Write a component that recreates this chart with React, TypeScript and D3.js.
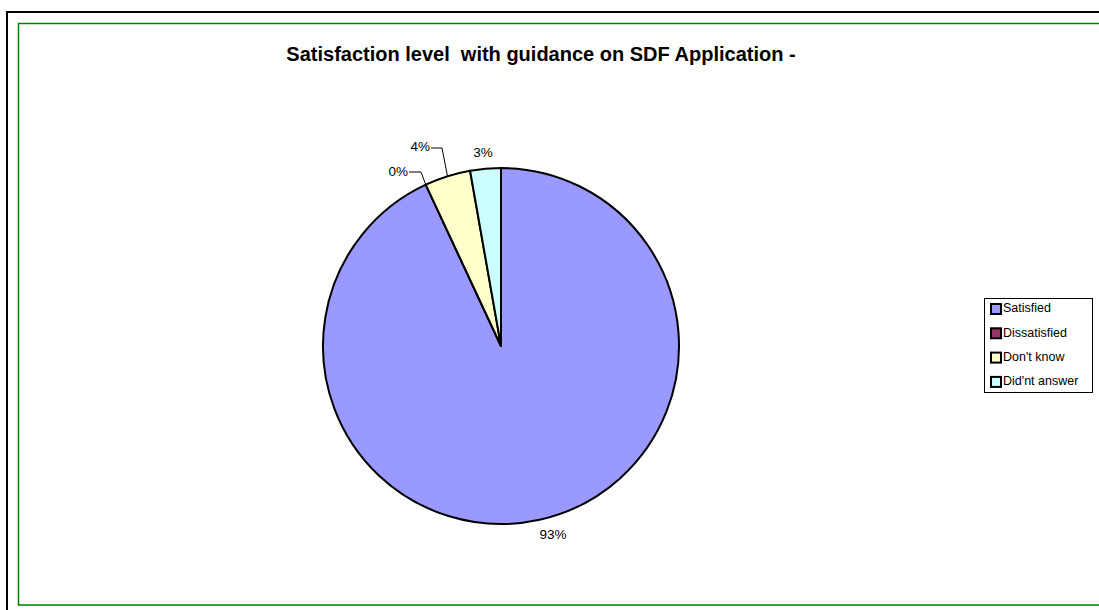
import React from "react";
import * as d3 from "d3";

const categories = ["Satisfied", "Dissatisfied", "Don't know", "Did'nt answer"];
const counts = [67, 0, 3, 2];
const labels = ["93%", "0%", "4%", "3%"];
const colors = ["#9999FF", "#993366", "#FFFFCC", "#CCFFFF"];
const title = "Satisfaction level  with guidance on SDF Application -";

export default function App() {
  const W = 1099, H = 610;
  const cx = 501, cy = 346, r = 178;
  const pie = d3.pie<number>().sort(null).value((d) => d)(counts);
  const arc = d3.arc<d3.PieArcDatum<number>>().innerRadius(0).outerRadius(r);
  const font = "Arial, 'Liberation Sans', Helvetica, sans-serif";

  const pt = (a: number, rr: number) => [cx + rr * Math.sin(a), cy - rr * Math.cos(a)];
  const anchor2 = pt((pie[2].startAngle + pie[2].endAngle) / 2, r);
  const anchor1 = pt(pie[1].startAngle, r);

  return (
    <div style={{ position: "absolute", left: 0, top: 0, width: W, height: H, overflow: "hidden" }}>
      <svg width={W} height={H} style={{ display: "block" }}>
        <rect x={0} y={0} width={W} height={H} fill="#fff" />
        <rect x={7} y={12} width={W + 10} height={H + 10} fill="none" stroke="#000" strokeWidth={2} />
        <rect x={18.5} y={23.5} width={W} height={581.5} fill="none" stroke="#008000" strokeWidth={1.5} />
        <text x={541} y={61} textAnchor="middle" fontFamily={font} fontWeight="bold" fontSize={20} style={{ whiteSpace: "pre" }}>
          {title}
        </text>
        <g transform={`translate(${cx},${cy})`}>
          {pie.map((d, i) => (
            <path key={i} d={arc(d) || ""} fill={colors[i]} stroke="#000" strokeWidth={2} strokeLinejoin="round" />
          ))}
        </g>
        <text x={553} y={535} textAnchor="middle" dominantBaseline="middle" fontFamily={font} fontSize={13.5}>{labels[0]}</text>
        <text x={483} y={153} textAnchor="middle" dominantBaseline="middle" fontFamily={font} fontSize={13.5}>{labels[3]}</text>
        <polyline points={`${431},148 ${442},148 ${anchor2[0]},${anchor2[1]}`} fill="none" stroke="#000" strokeWidth={1} />
        <text x={430} y={147} textAnchor="end" dominantBaseline="middle" fontFamily={font} fontSize={13.5}>{labels[2]}</text>
        <polyline points={`${409},172 ${421},172 ${anchor1[0]},${anchor1[1]}`} fill="none" stroke="#000" strokeWidth={1} />
        <text x={408} y={172} textAnchor="end" dominantBaseline="middle" fontFamily={font} fontSize={13.5}>{labels[1]}</text>
        <g>
          <rect x={984.5} y={298.5} width={108} height={94} fill="#fff" stroke="#000" strokeWidth={1} />
          {categories.map((c, i) => (
            <g key={c} transform={`translate(990,${309 + i * 24.3})`}>
              <rect x={1} y={-5} width={10} height={10} fill={colors[i]} stroke="#000" strokeWidth={2} />
              <text x={13} y={0} dominantBaseline="middle" fontFamily={font} fontSize={12.5}>{c}</text>
            </g>
          ))}
        </g>
      </svg>
    </div>
  );
}
